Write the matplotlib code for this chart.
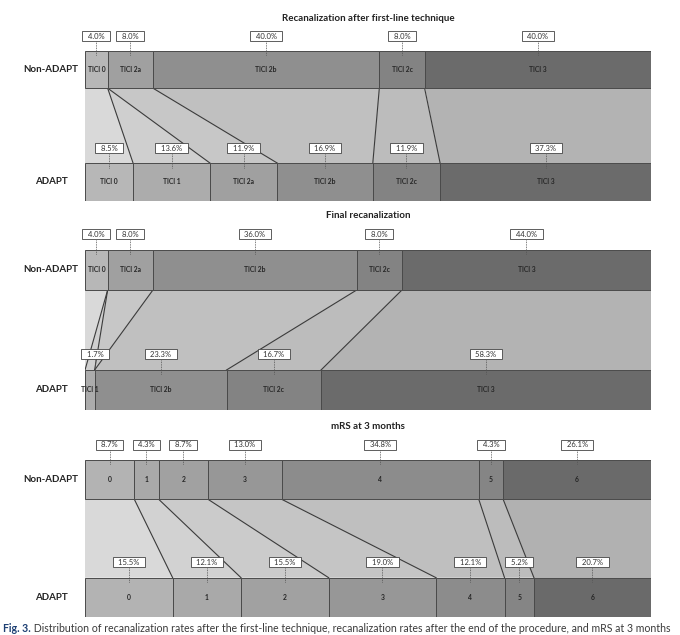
import matplotlib.pyplot as plt
import numpy as np

plt.rcParams['font.family'] = ['Lato', 'DejaVu Sans']

# data
tici_cats = ["TICI 0", "TICI 1", "TICI 2a", "TICI 2b", "TICI 2c", "TICI 3"]
first_line_non = [4.0, 0.0, 8.0, 40.0, 8.0, 40.0]
first_line_adapt = [8.5, 13.6, 11.9, 16.9, 11.9, 37.3]
final_non = [4.0, 0.0, 8.0, 36.0, 8.0, 44.0]
final_adapt = [0.0, 1.7, 0.0, 23.3, 16.7, 58.3]

mrs_cats = ["0", "1", "2", "3", "4", "5", "6"]
mrs_non = [8.7, 4.3, 8.7, 13.0, 34.8, 4.3, 26.1]
mrs_adapt = [15.5, 12.1, 15.5, 19.0, 12.1, 5.2, 20.7]

row_labels = ["Non-ADAPT", "ADAPT"]
titles = ["Recanalization after first-line technique",
          "Final recanalization",
          "mRS at 3 months"]

tici_bar = ['#b7b7b7', '#acacac', '#a0a0a0', '#8f8f8f', '#838383', '#6b6b6b']
tici_band = ['#d9d9d9', '#cfcfcf', '#c7c7c7', '#c0c0c0', '#bcbcbc', '#b3b3b3']
mrs_bar = ['#b3b3b3', '#a9a9a9', '#a1a1a1', '#979797', '#8c8c8c', '#858585', '#6a6a6a']
mrs_band = ['#d9d9d9', '#d2d2d2', '#cbcbcb', '#c5c5c5', '#bfbfbf', '#bcbcbc', '#b1b1b1']

W, H = 680, 635
fig = plt.figure(figsize=(W / 100, H / 100), dpi=100)

G = 2.0  # band height in bar heights


def cum(vals):
    v = np.array(vals, dtype=float)
    v = v / v.sum() * 100
    edges = np.concatenate([[0], np.cumsum(v)])
    return v, edges


def pct_box(ax, x, y, val):
    ax.text(x, y, f"  {val:.1f}%  ", ha='center', va='center', fontsize=5.5,
            color='#333333', clip_on=False, zorder=5,
            bbox=dict(boxstyle='square,pad=0.2', fc='white', ec='#444444', lw=0.6))
    ax.plot([x, x], [y - 0.14, y - 0.52], ls=(0, (1, 1)), color='#555555',
            lw=0.6, clip_on=False, zorder=4)


def panel(ax, title, cats, top, bot, bar_cols, band_cols):
    tw, te = cum(top)
    bw, be = cum(bot)
    top_y0 = 1 + G
    # connecting band
    for i in range(len(cats)):
        ax.fill([te[i], te[i + 1], be[i + 1], be[i]],
                [top_y0, top_y0, 1, 1], color=band_cols[i], lw=0, zorder=1)
    for i in range(len(cats) - 1):
        ax.plot([te[i + 1], be[i + 1]], [top_y0, 1], color='#3a3a3a', lw=0.8, zorder=2)
    # bars
    ax.barh(top_y0 + 0.5, tw, left=te[:-1], height=1, color=bar_cols,
            edgecolor='#4a4a4a', lw=0.7, zorder=3)
    ax.barh(0.5, bw, left=be[:-1], height=1, color=bar_cols,
            edgecolor='#4a4a4a', lw=0.7, zorder=3)
    for vals, w, e, y0 in [(top, tw, te, top_y0), (bot, bw, be, 0)]:
        for i, c in enumerate(cats):
            if vals[i] <= 0:
                continue
            xc = e[i] + w[i] / 2
            ax.text(xc, y0 + 0.5, c, ha='center', va='center', fontsize=4.9,
                    fontweight='bold', color='#262626', zorder=6)
            pct_box(ax, max(xc, 1.8), y0 + 1.39, vals[i])
    ax.text(50, top_y0 + 1.85, title, ha='center', va='center', fontsize=7,
            fontweight='bold', color='#222222')
    ax.text(-6.0, top_y0 + 0.5, row_labels[0], ha='center', va='center',
            fontsize=7, fontweight='bold', color='#222222', clip_on=False)
    ax.text(-6.0, 0.5, row_labels[1], ha='center', va='center',
            fontsize=7, fontweight='bold', color='#222222', clip_on=False)
    ax.set_xlim(0, 100)
    ax.set_ylim(0, 2 + G)
    ax.axis('off')


# panel positions in pixels: (top, bottom)
boxes = [(50.7, 200.5), (250, 410), (460, 617)]
left, right = 85, 651
axes = []
for t, b in boxes:
    axes.append(fig.add_axes([left / W, 1 - b / H, (right - left) / W, (b - t) / H]))

panel(axes[0], titles[0], tici_cats, first_line_non, first_line_adapt, tici_bar, tici_band)
panel(axes[1], titles[1], tici_cats, final_non, final_adapt, tici_bar, tici_band)
panel(axes[2], titles[2], mrs_cats, mrs_non, mrs_adapt, mrs_bar, mrs_band)

# caption
t1 = fig.text(3 / W, 1 - 628 / H, "Fig. 3.", fontsize=7.6, fontweight='bold',
              color='#1d3f73', va='center', ha='left')
ax0 = fig.add_axes([0, 0, 1, 1], zorder=-1)
ax0.axis('off')
ax0.annotate(" Distribution of recanalization rates after the first-line technique, "
             "recanalization rates after the end of the procedure, and mRS at 3 months",
             xy=(1, 0.5), xycoords=t1, va='center', ha='left', fontsize=7.6,
             color='#3a3a3a')

fig.savefig("out.png", dpi=100)
